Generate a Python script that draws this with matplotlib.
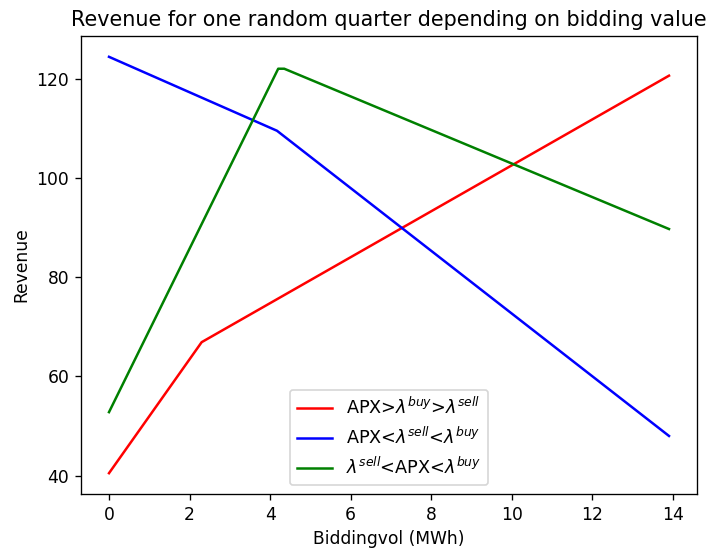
import matplotlib
matplotlib.use("Agg")
import matplotlib.pyplot as plt

# Piecewise-linear revenue curves over bidding volume (MWh)
red_x = [0.0, 2.3, 13.9]
red_y = [40.5, 66.9, 120.6]

blue_x = [0.0, 4.17, 13.9]
blue_y = [124.4, 109.5, 48.0]

green_x = [0.0, 4.2, 4.35, 13.9]
green_y = [52.8, 122.0, 122.0, 89.7]

labels = [
    r"APX>$\lambda^{buy}$>$\lambda^{sell}$",
    r"APX<$\lambda^{sell}$<$\lambda^{buy}$",
    r"$\lambda^{sell}$<APX<$\lambda^{buy}$",
]

plt.rcParams["font.size"] = 10.3

W, H, DPI = 707, 551, 120
fig = plt.figure(figsize=(W / DPI, H / DPI), dpi=DPI)
ax = fig.add_axes([81 / W, 1 - 494 / H, (697 - 81) / W, (494 - 36) / H])

ax.plot(red_x, red_y, color="red", label=labels[0])
ax.plot(blue_x, blue_y, color="blue", label=labels[1])
ax.plot(green_x, green_y, color="green", label=labels[2])

ax.set_title("Revenue for one random quarter depending on bidding value",
             fontsize=12.4)
ax.set_xlabel("Biddingvol (MWh)")
ax.set_ylabel("Revenue")
ax.set_xticks([0, 2, 4, 6, 8, 10, 12, 14])
ax.set_yticks([40, 60, 80, 100, 120])
ax.legend(loc="lower center", fontsize=10.6)

fig.savefig("out.png", dpi=DPI)
